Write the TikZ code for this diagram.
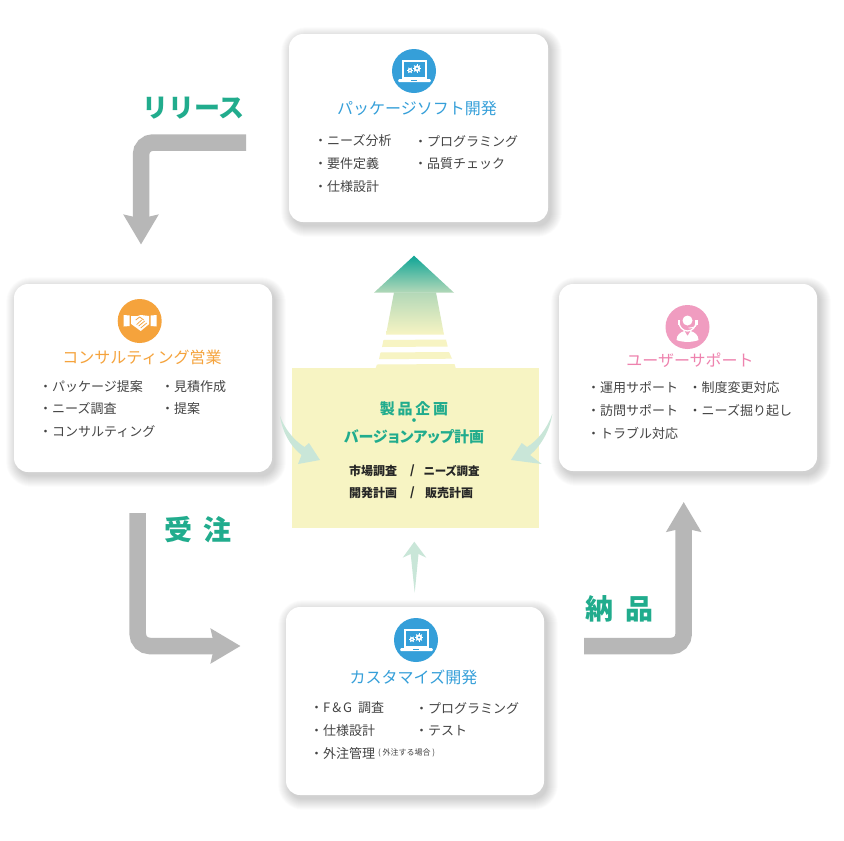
\documentclass[tikz,border=0pt]{standalone}
\usepackage{fontspec}
\setmainfont{Noto Sans CJK JP}
\newfontfamily\paltfont{Noto Sans CJK JP}[RawFeature=+palt]
\newfontfamily\widefont{Noto Sans CJK JP}[LetterSpace=18]
\newfontfamily\gapfont{Noto Sans CJK JP}[LetterSpace=40]
\usetikzlibrary{arrows.meta}

\definecolor{cardblue}{HTML}{359FD9}
\definecolor{cardorange}{HTML}{F5A33C}
\definecolor{cardpink}{HTML}{F09CC0}
\definecolor{titlepink}{HTML}{EE82AE}
\definecolor{leafgreen}{HTML}{21AC8D}
\definecolor{tealtop}{HTML}{0FA596}
\definecolor{palegreen}{HTML}{C9E6D8}
\definecolor{paleyellow}{HTML}{F7F4C3}
\definecolor{midgreen}{HTML}{B3D8B8}
\definecolor{flowgray}{HTML}{B7B7B7}
\definecolor{itemgray}{HTML}{444444}

\tikzset{
	cardtitle/.style={font=\fontsize{16}{16}\selectfont, inner sep=0pt},
	itemtext/.style={font=\fontsize{13}{13}\selectfont, text=itemgray, anchor=west, inner sep=0pt},
	flowlabel/.style={font=\fontsize{26}{26}\selectfont\bfseries, text=leafgreen, inner sep=0pt},
	planhead/.style={font=\fontsize{15}{15}\paltfont\bfseries, text=leafgreen, inner sep=0pt},
	plantext/.style={font=\fontsize{12}{12}\selectfont\bfseries, text=black!85, anchor=west, inner sep=0pt},
	flowarrow/.style={draw=flowgray, line width=16.5pt, rounded corners=12pt},
	laptop/.pic={
		\fill[white] (-12,-11) rectangle (13,8);
		\fill[cardblue] (-10,-9) rectangle (11,6);
		\fill[white, rounded corners=1pt] (-15.5,8) -- (16.5,8) -- (17,11) -- (-16,11) -- cycle;
		\fill[cardblue] (-3,8.6) rectangle (3,9.8);
		% Gears
		\foreach \a in {0,45,...,315}
		\draw[white, line width=1pt] (3,-2.5) -- ++(\a:4.2);
		\foreach \a in {0,60,...,300}
		\draw[white, line width=.8pt] (-4,-.7) -- ++(\a:3);
		\fill[white] (3,-2.5) circle (3.2);
		\fill[white] (-4,-.7) circle (2.2);
		\fill[cardblue] (3,-2.5) circle (1.2);
		\fill[cardblue] (-4,-.7) circle (.8);
	},
	handshake/.pic={
		\fill[white] (-16,-6) -- (-10,-5.5) -- (-10,5) -- (-16,5.5) -- cycle;
		\fill[white] (17,-6) -- (11,-5.5) -- (11,5) -- (17,5.5) -- cycle;
		\fill[white] (-8.5,-5) -- (-2,-5) -- (1,-6) -- (9.5,-5) -- (9.5,3) -- (1,10) -- (-8.5,3) -- cycle;
		\draw[cardorange, line width=.8pt] (-4,-1) -- (0,-4) -- (4,-1);
		\draw[cardorange, line width=.7pt] (1,7) -- (7,2) (-1,5) -- (5,0) (-3,3.5) -- (2,-1);
	},
	headset/.pic={
		\draw[white, line width=1.3pt] (-8.5,-5) arc (180:0:8.5 and 9);
		\fill[white] (-10,-7) rectangle (-7.8,-2.5);
		\fill[white] (10,-7) rectangle (7.8,-2.5);
		\fill[white] (0,-6.5) circle (5);
		\draw[white, line width=.8pt] (9,-2.5) .. controls (9,0) and (4,1) .. (1,1);
		\fill[white] (-11,13) .. controls (-11,8) and (-7,5) .. (-3,4) -- (0,9) -- (3,4) .. controls (7,5) and (11,8) .. (11,13) .. controls (5,15.5) and (-5,15.5) .. (-11,13) -- cycle;
	}
}

% One white card with its soft shadow
\newcommand{\cardbox}[4]{
	\foreach \s in {11,10.5,...,0}
	\fill[black, opacity=.009, rounded corners=14pt+\s pt] (#1+3-\s,#2+4-\s) rectangle (#3+3+\s,#4+4+\s);
	\fill[white, rounded corners=14pt] (#1,#2) rectangle (#3,#4);
}

\begin{document}
\begin{tikzpicture}[x=1pt, y=-1pt]
	\useasboundingbox (0,0) rectangle (844,841);
	\fill[white] (0,0) rectangle (844,841);

	% Cards
	\cardbox{289}{34}{548}{222}
	\cardbox{14}{284}{272}{472}
	\cardbox{559}{284}{817}{471}
	\cardbox{286}{607}{544}{795}

	% Planning block
	\fill[paleyellow] (292,368) rectangle (539,528);

	% Rising arrow
	\shade[top color=tealtop, bottom color=midgreen] (414,255.7) -- (454,292.7) -- (374,292.7) -- cycle;
	\shade[top color=midgreen, bottom color=paleyellow] (394,292.4) -- (436,292.4) -- (444,334.7) -- (386,334.7) -- cycle;
	\fill[paleyellow] (383.5,340) -- (446,339.5) -- (447.7,346.5) -- (382,347) -- cycle;
	\fill[paleyellow] (380.5,352.5) -- (449,352) -- (452,358.7) -- (379,359.2) -- cycle;
	\fill[paleyellow] (377,364.5) -- (454.5,364) -- (455.7,368) -- (375.7,368) -- cycle;

	% Pale arrows into the block
	\fill[palegreen] (280,416) .. controls (285,430) and (295,441) .. (304.5,447) -- (309,443) -- (320,460) -- (298,464) -- (301.5,455) .. controls (290,446) and (282,431) .. (280,416) -- cycle;
	\fill[palegreen] (552.3,414) .. controls (547,429) and (537,441) .. (527,447) -- (521.7,443) -- (511,460) -- (541.7,464) -- (530,455) .. controls (541,446) and (550,430) .. (552.3,414) -- cycle;
	\fill[palegreen] (414.3,541.7) -- (426.3,557.7) -- (418.5,554) -- (414.7,592.7) -- (410.7,554) -- (402.7,557.7) -- cycle;

	% Flow arrows
	\coordinate (releaseA) at (246,142.5);
	\coordinate (releaseB) at (141,142.5);
	\coordinate (releaseC) at (141,244.5);
	\coordinate (orderA) at (137.7,513);
	\coordinate (orderB) at (137.7,646);
	\coordinate (orderC) at (240.5,646);
	\coordinate (deliverA) at (584,646);
	\coordinate (deliverB) at (683.7,646);
	\coordinate (deliverC) at (683.7,502);
	\draw[flowarrow, -{Stealth[length=29.5pt, width=34pt, inset=3.5pt]}] (releaseA) -- (releaseB) -- (releaseC);
	\draw[flowarrow, -{Stealth[length=29.5pt, width=34pt, inset=3.5pt]}] (orderA) -- (orderB) -- (orderC);
	\draw[flowarrow, -{Stealth[length=29.5pt, width=34pt, inset=3.5pt]}] (deliverA) -- (deliverB) -- (deliverC);

	% Flow labels
	\node[flowlabel] (releaseLabel) at (193.5,108) {リリース};
	\node[flowlabel, font=\fontsize{28}{28}\gapfont\bfseries] (orderLabel) at (198,530) {受注};
	\node[flowlabel, font=\fontsize{28}{28}\gapfont\bfseries] (deliverLabel) at (619.5,609) {納品};

	% Icons
	\node[circle, fill=cardblue, minimum size=44pt, inner sep=0pt] (packageIcon) at (414,71) {};
	\pic at (packageIcon.center) {laptop};
	\node[circle, fill=cardorange, minimum size=44pt, inner sep=0pt] (salesIcon) at (139.7,321) {};
	\pic at (salesIcon.center) {handshake};
	\node[circle, fill=cardpink, minimum size=44pt, inner sep=0pt] (supportIcon) at (687.5,327) {};
	\pic at (supportIcon.center) {headset};
	\node[circle, fill=cardblue, minimum size=44pt, inner sep=0pt] (customIcon) at (416,640) {};
	\pic at (customIcon.center) {laptop};

	% Card titles
	\node[cardtitle, text=cardblue] (packageTitle) at (417,108) {パッケージソフト開発};
	\node[cardtitle, text=cardorange] (salesTitle) at (142,357) {コンサルティング営業};
	\node[cardtitle, text=titlepink] (supportTitle) at (690,360) {ユーザーサポート};
	\node[cardtitle, text=cardblue] (customTitle) at (413.5,677) {カスタマイズ開発};

	% Package items
	\node[itemtext] (packageA) at (314,141) {・ニーズ分析};
	\node[itemtext] (packageB) at (314,163.5) {・要件定義};
	\node[itemtext] (packageC) at (314,186.5) {・仕様設計};
	\node[itemtext] (packageD) at (414,141) {・プログラミング};
	\node[itemtext] (packageE) at (414,163.5) {・品質チェック};

	% Sales items
	\node[itemtext] (salesA) at (39,386.5) {・パッケージ提案};
	\node[itemtext] (salesB) at (39,409) {・ニーズ調査};
	\node[itemtext] (salesC) at (39,431.5) {・コンサルティング};
	\node[itemtext] (salesD) at (161,386.5) {・見積作成};
	\node[itemtext] (salesE) at (161,409) {・提案};

	% Support items
	\node[itemtext] (supportA) at (587,388) {・運用サポート};
	\node[itemtext] (supportB) at (587,410.5) {・訪問サポート};
	\node[itemtext] (supportC) at (587,433) {・トラブル対応};
	\node[itemtext] (supportD) at (688.5,388) {・制度変更対応};
	\node[itemtext] (supportE) at (688.5,410.5) {・ニーズ掘り起し};

	% Custom items
	\node[itemtext] (customA) at (310,708) {・F\kern2pt\&\kern2pt G\kern3pt\ 調査};
	\node[itemtext] (customB) at (310,731) {・仕様設計};
	\node[itemtext] (customC) at (310,754) {・外注管理};
	\node[itemtext] (customD) at (415,708) {・プログラミング};
	\node[itemtext] (customE) at (415,731) {・テスト};
	\node[itemtext, font=\fontsize{8}{8}\selectfont] (customNote) at (378,753) {( 外注する場合 )};

	% Planning text
	\node[planhead, font=\fontsize{15}{15}\widefont\bfseries] (planTitle) at (414,408.5) {製品企画};
	\node[planhead, font=\fontsize{13}{13}\selectfont\bfseries] (planDot) at (414,422.5) {・};
	\node[planhead] (planSub) at (414,436.5) {バージョンアップ計画};
	\node[plantext] (planA) at (349,471) {市場調査};
	\node[plantext] (planB) at (410,471) {/};
	\node[plantext, font=\fontsize{11.5}{11.5}\paltfont\bfseries] (planC) at (423.5,471) {ニーズ調査};
	\node[plantext] (planD) at (349,492.5) {開発計画};
	\node[plantext] (planE) at (410,492.5) {/};
	\node[plantext] (planF) at (425,492.5) {販売計画};
\end{tikzpicture}
\end{document}
